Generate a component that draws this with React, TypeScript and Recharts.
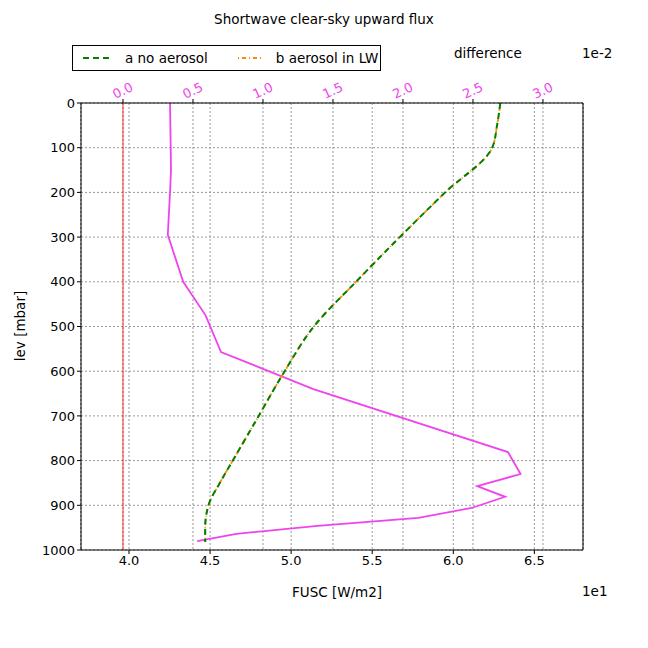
import React from "react";
import { LineChart, Line, XAxis, YAxis, CartesianGrid, ReferenceLine } from "recharts";

const LEV_A = [0, 50, 100, 200, 300, 400, 500, 600, 700, 800, 850, 900, 950, 982];
const FUSC_A = [62.9, 62.7, 62.4, 59.5, 56.7, 54.0, 51.4, 49.6, 48.0, 46.4, 45.6, 44.9, 44.7, 44.7];
const FUSC_B = [62.9, 62.7, 62.4, 59.5, 56.7, 54.0, 51.4, 49.6, 48.0, 46.4, 45.6, 44.9, 44.7, 44.7];
const LEV_D = [0, 150, 200, 295, 400, 475, 557, 640, 781, 830, 857, 881, 906, 928, 946, 964, 980];
const DIFF = [0.336, 0.343, 0.336, 0.32, 0.43, 0.59, 0.7, 1.36, 2.75, 2.84, 2.53, 2.73, 2.49, 2.11, 1.39, 0.81, 0.53];

const BOTTOM_TICKS = [40, 45, 50, 55, 60, 65];
const TOP_TICKS = [0, 0.5, 1, 1.5, 2, 2.5, 3];
const LEV_TICKS = [0, 100, 200, 300, 400, 500, 600, 700, 800, 900, 1000];

const dataA = LEV_A.map((lev, i) => ({ lev, fusc: FUSC_A[i] }));
const dataB = LEV_A.map((lev, i) => ({ lev, fusc: FUSC_B[i] }));
const dataD = LEV_D.map((lev, i) => ({ lev, diff: DIFF[i] }));

const font = "DejaVu Sans, sans-serif";

const TopTick = (props: any) => {
  const { x, y, payload } = props;
  return (
    <text x={x} y={y - 2} fill="#ee44ee" fontSize={13} fontFamily={font}
      textAnchor="middle" transform={`rotate(-25 ${x} ${y - 6})`}>
      {payload.value.toFixed(1)}
    </text>
  );
};

export default function App() {
  return (
    <div style={{ position: "absolute", left: 0, top: 0, width: 648, height: 648, background: "#fff", fontFamily: font }}>
      <div style={{ position: "absolute", top: 11, width: 648, textAlign: "center", fontSize: 13.5 }}>
        Shortwave clear-sky upward flux
      </div>
      <div style={{ position: "absolute", left: 72, top: 45, width: 307, height: 24, border: "1px solid #000", fontSize: 13.5, display: "flex", alignItems: "center" }}>
        <svg width={30} height={10} style={{ marginLeft: 8 }}><line x1={2} y1={5} x2={28} y2={5} stroke="green" strokeWidth={2} strokeDasharray="6 4" /></svg>
        <span style={{ marginLeft: 14 }}>a no aerosol</span>
        <svg width={30} height={10} style={{ marginLeft: 28 }}><line x1={2} y1={5} x2={28} y2={5} stroke="darkorange" strokeWidth={2} strokeDasharray="1 3 4 3" /></svg>
        <span style={{ marginLeft: 10 }}>b aerosol in LW</span>
      </div>
      <div style={{ position: "absolute", left: 454, top: 45, fontSize: 13.5 }}>difference</div>
      <div style={{ position: "absolute", left: 582, top: 45, fontSize: 13.5 }}>1e-2</div>
      <div style={{ position: "absolute", left: 582, top: 583, fontSize: 13.5 }}>1e1</div>
      <div style={{ position: "absolute", left: 292, top: 584, fontSize: 13.5 }}>FUSC [W/m2]</div>
      <div style={{ position: "absolute", left: 20, top: 326, fontSize: 13.5, transform: "translate(-50%,-50%) rotate(-90deg)", whiteSpace: "nowrap" }}>lev [mbar]</div>
      <LineChart width={648} height={648} layout="vertical"
        margin={{ top: 73, right: 64, bottom: 68, left: 41 }} style={{ position: "absolute", left: 0, top: 0 }}>
        <CartesianGrid xAxisId="bottom" yAxisId="lev" stroke="#999" strokeDasharray="2 2" />
        <CartesianGrid xAxisId="top" yAxisId="lev" horizontal={false} stroke="#999" strokeDasharray="2 2" />
        <XAxis xAxisId="bottom" type="number" dataKey="fusc" domain={[37.04, 68]} ticks={BOTTOM_TICKS}
          allowDataOverflow height={30} tickSize={4} stroke="#000"
          tick={{ fill: "#000", fontSize: 13, fontFamily: font }}
          tickFormatter={(v: number) => (v / 10).toFixed(1)} />
        <XAxis xAxisId="top" orientation="top" type="number" dataKey="diff" domain={[-0.3, 3.286]} ticks={TOP_TICKS}
          allowDataOverflow height={30} tickSize={4} stroke="#000" tick={<TopTick />} />
        <YAxis yAxisId="lev" type="number" dataKey="lev" domain={[0, 1000]} ticks={LEV_TICKS}
          width={40} tickSize={4} stroke="#000" tick={{ fill: "#000", fontSize: 13, fontFamily: font }} />
        <YAxis yAxisId="right" orientation="right" type="number" domain={[0, 1000]} width={1} tick={false} stroke="#000" />
        <ReferenceLine xAxisId="top" yAxisId="lev" x={0} stroke="red" strokeWidth={0.8} />
        <Line data={dataD} xAxisId="top" yAxisId="lev" dataKey="diff" stroke="#ee44ee" strokeWidth={1.8}
          dot={false} isAnimationActive={false} />
        <Line data={dataB} xAxisId="bottom" yAxisId="lev" dataKey="fusc" stroke="darkorange" strokeWidth={1.8}
          strokeDasharray="1 3 4 3" dot={false} isAnimationActive={false} type="monotone" />
        <Line data={dataA} xAxisId="bottom" yAxisId="lev" dataKey="fusc" stroke="green" strokeWidth={2}
          strokeDasharray="6 4" dot={false} isAnimationActive={false} type="monotone" />
      </LineChart>
    </div>
  );
}
